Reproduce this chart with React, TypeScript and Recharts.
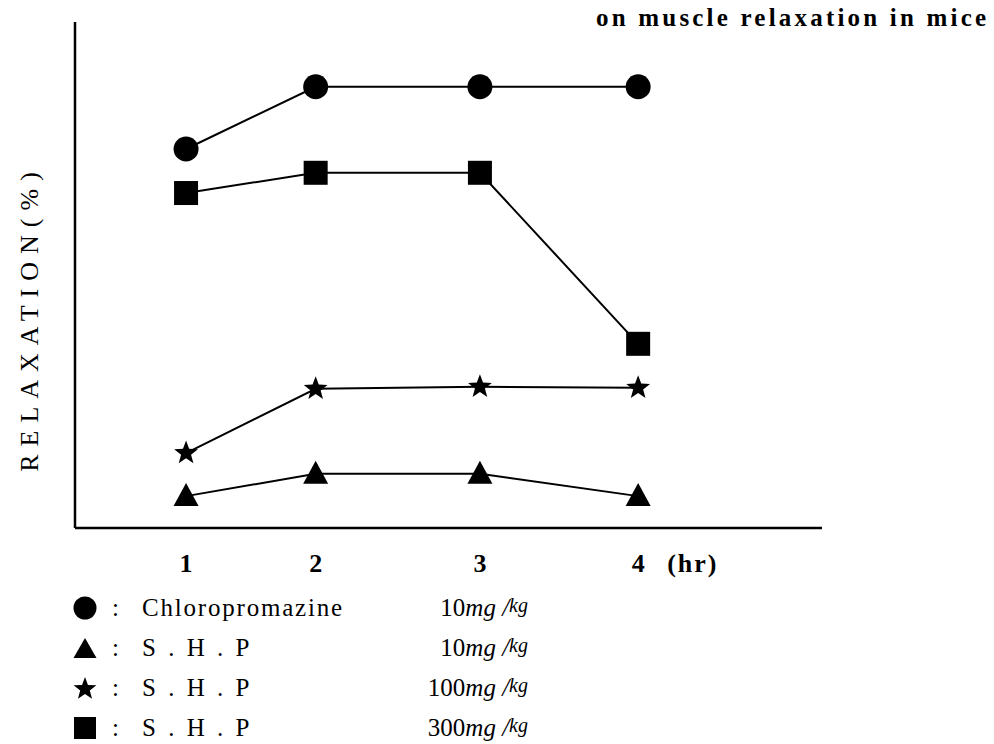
import React from "react";
import { LineChart, Line, XAxis, YAxis } from "recharts";

// time axis: tick labels and where each hour sits on the drawn axis
const HOURS = ["1", "2", "3", "4"];
const HOUR_POS = [1, 1.86, 2.95, 4];

// relaxation (%) per series
const CHLOROPROMAZINE_10 = [74.9, 87.2, 87.2, 87.2];
const SHP_10 = [6.3, 10.7, 10.7, 6.3];
const SHP_100 = [14.8, 27.5, 27.9, 27.7];
const SHP_300 = [66.2, 70.2, 70.2, 36.4];

const data = HOUR_POS.map((t, i) => ({
  t,
  chlor: CHLOROPROMAZINE_10[i],
  shp10: SHP_10[i],
  shp100: SHP_100[i],
  shp300: SHP_300[i],
}));

const SERIF = '"Liberation Serif", "DejaVu Serif", serif';
const INK = "#000";

function starPath(cx: number, cy: number, r: number) {
  const inner = r * 0.42;
  let d = "";
  for (let k = 0; k < 10; k++) {
    const rad = k % 2 === 0 ? r : inner;
    const a = -Math.PI / 2 + (k * Math.PI) / 5;
    d += (k === 0 ? "M" : "L") + (cx + rad * Math.cos(a)) + "," + (cy + rad * Math.sin(a));
  }
  return d + "Z";
}

const CircleDot = (p: any) => <circle key={p.index} cx={p.cx} cy={p.cy} r={12.5} fill={INK} />;
const SquareDot = (p: any) => (
  <rect key={p.index} x={p.cx - 12} y={p.cy - 12} width={24} height={24} fill={INK} />
);
const TriangleDot = (p: any) => (
  <path key={p.index} d={`M${p.cx},${p.cy - 13}L${p.cx + 12.5},${p.cy + 10}L${p.cx - 12.5},${p.cy + 10}Z`} fill={INK} />
);
const StarDot = (p: any) => <path key={p.index} d={starPath(p.cx, p.cy, 12.5)} fill={INK} />;

const HourTick = (p: any) => {
  const i = p.index ?? p.payload?.index ?? 0;
  const last = i === HOURS.length - 1;
  return (
    <g>
      <text x={p.x} y={p.y + 42} textAnchor="middle" fontFamily={SERIF} fontWeight="bold" fontSize={26} fill={INK}>
        {HOURS[i]}
      </text>
      {last && (
        <text x={p.x + 29} y={p.y + 42} fontFamily={SERIF} fontWeight="bold" fontSize={26} letterSpacing={2} fill={INK}>
          (hr)
        </text>
      )}
    </g>
  );
};

const LEGEND = [
  { shape: "circle", name: "Chloropromazine", dose: "10", spacing: 1.8 },
  { shape: "triangle", name: "S . H . P", dose: "10", spacing: 3 },
  { shape: "star", name: "S . H . P", dose: "100", spacing: 3 },
  { shape: "square", name: "S . H . P", dose: "300", spacing: 3 },
];

function LegendIcon({ shape }: { shape: string }) {
  return (
    <svg width={26} height={26} style={{ display: "block" }}>
      {shape === "circle" && <circle cx={13} cy={13} r={11.5} fill={INK} />}
      {shape === "square" && <rect x={2} y={2} width={22} height={22} fill={INK} />}
      {shape === "triangle" && <path d="M13,3L24.5,23L1.5,23Z" fill={INK} />}
      {shape === "star" && <path d={starPath(13, 14, 12)} fill={INK} />}
    </svg>
  );
}

export default function App() {
  return (
    <div style={{ position: "absolute", left: 0, top: 0, width: 994, height: 744, background: "#fff", fontFamily: SERIF, overflow: "hidden" }}>
      <LineChart
        width={994}
        height={744}
        data={data}
        margin={{ top: 22, right: 172, bottom: 176, left: 74 }}
      >
        <XAxis
          dataKey="t"
          type="number"
          domain={[0.263, 5.22]}
          ticks={HOUR_POS}
          height={40}
          tickSize={0}
          tickLine={false}
          axisLine={{ stroke: INK, strokeWidth: 2.5 }}
          tick={<HourTick />}
        />
        <YAxis
          type="number"
          domain={[0, 100]}
          width={1}
          tick={false}
          tickLine={false}
          axisLine={{ stroke: INK, strokeWidth: 2.5 }}
        />
        <Line dataKey="chlor" stroke={INK} strokeWidth={2} dot={CircleDot} activeDot={false} isAnimationActive={false} />
        <Line dataKey="shp300" stroke={INK} strokeWidth={2} dot={SquareDot} activeDot={false} isAnimationActive={false} />
        <Line dataKey="shp100" stroke={INK} strokeWidth={2} dot={StarDot} activeDot={false} isAnimationActive={false} />
        <Line dataKey="shp10" stroke={INK} strokeWidth={2} dot={TriangleDot} activeDot={false} isAnimationActive={false} />
      </LineChart>

      <div
        style={{
          position: "absolute",
          left: 596,
          top: 3,
          fontSize: 25,
          fontWeight: "bold",
          letterSpacing: 3.2,
          whiteSpace: "nowrap",
          lineHeight: "30px",
        }}
      >
        on muscle relaxation in mice
      </div>

      <div
        style={{
          position: "absolute",
          left: 30,
          top: 318,
          transform: "translate(-50%, -50%) rotate(-90deg)",
          fontSize: 26,
          letterSpacing: 8,
          whiteSpace: "nowrap",
          lineHeight: "30px",
        }}
      >
        RELAXATION(%)
      </div>

      <div style={{ position: "absolute", left: 72, top: 588 }}>
        {LEGEND.map((item, i) => (
          <div key={i} style={{ display: "flex", alignItems: "center", height: 40, fontSize: 25, whiteSpace: "nowrap" }}>
            <LegendIcon shape={item.shape} />
            <span style={{ marginLeft: 14, width: 30 }}>:</span>
            <span style={{ width: 246, letterSpacing: item.spacing }}>{item.name}</span>
            <span style={{ width: 140, textAlign: "right" }}>
              {item.dose}
              <i>mg</i>
              <i> /</i>
              <i style={{ fontSize: 20, verticalAlign: 4 }}>kg</i>
            </span>
          </div>
        ))}
      </div>
    </div>
  );
}
